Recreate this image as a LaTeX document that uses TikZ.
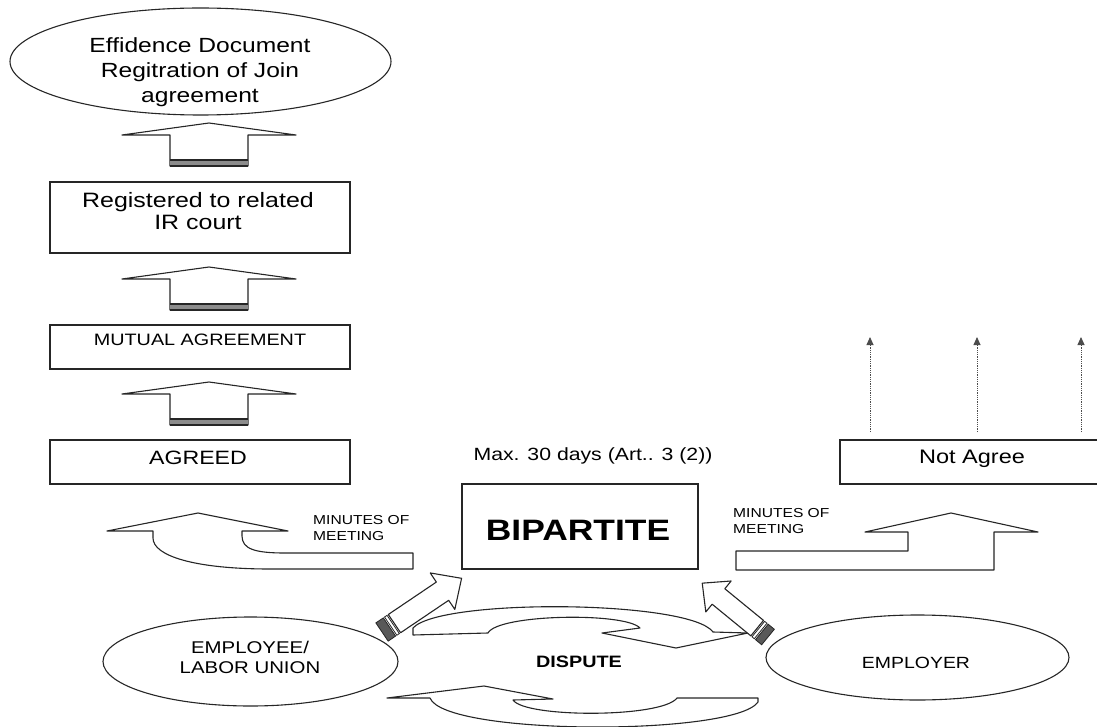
\documentclass[tikz,border=0pt]{standalone}
\usepackage{fontspec}
\setmainfont{Liberation Sans}[FakeStretch=1.2]
\usetikzlibrary{shapes.geometric,arrows.meta}
\newcommand{\fsz}[2]{\fontsize{#1}{#2}\selectfont}
\tikzset{
  box/.style={draw=black!85, line width=1.3pt, fill=white, inner sep=0pt, rectangle},
  oval/.style={draw=black!85, line width=1.1pt, fill=white, ellipse, inner sep=0pt},
  blk/.style={draw=black!85, line width=1.1pt, fill=white, line join=round},
  txt/.style={inner sep=0pt, align=center, text=black},
  dots/.style={draw=black!70, line width=0.9pt, dash pattern=on 0.9pt off 0.9pt, -{Triangle[length=8pt,width=7pt]}},
  stripe/.style={draw=black!85, fill=black!65, line width=0.8pt},
  uparr/.pic={
    \draw[blk] (0,0) -- (87,12) -- (39,12) -- (39,43) -- (-39,43) -- (-39,12) -- (-87,12) -- cycle;
    \fill[black!45] (-39,37) rectangle (39,43);
    \draw[line width=1.3pt, black!85] (-39,37) -- (39,37) (-39,43) -- (39,43);
  }
}
\begin{document}
\begin{tikzpicture}[x=1pt,y=-1pt]
\useasboundingbox (0,0) rectangle (1097,727);
\clip (0,0) rectangle (1097,727);

% top ellipse
\node[oval, minimum width=381, minimum height=107] (doc) at (200.5,61.5) {};
\node[txt, font=\fsz{20.5}{25}] (doc-t) at (200,72) {Effidence Document\\Regitration of Join\\agreement};

% boxes on the left
\node[box, minimum width=300, minimum height=71] (reg) at (200,217.5) {};
\node[txt, font=\fsz{20.8}{22}] (reg-t) at (198,211) {Registered to related\\IR court};
\node[box, minimum width=300, minimum height=44] (mut) at (200,347) {};
\node[txt, font=\fsz{16.5}{20}] (mut-t) at (200,340) {MUTUAL AGREEMENT};
\node[box, minimum width=300, minimum height=44] (agr) at (200,462) {};
\node[txt, font=\fsz{19.3}{23}] (agr-t) at (198,458) {AGREED};

% block arrows upward
\pic at (209,123) {uparr};
\pic at (209,267) {uparr};
\pic at (209,382) {uparr};

% bipartite
\node[box, minimum width=236, minimum height=85] (bip) at (580,526.5) {};
\node[txt, font=\bfseries\fsz{29.5}{34}] (bip-t) at (578,530) {BIPARTITE};
\node[txt, font=\fsz{17.7}{21}] (max) at (593,456) {Max. 30 days (Art.. 3 (2))};

% not agree
\node[box, minimum width=265, minimum height=44] (nag) at (972.5,462) {};
\node[txt, font=\fsz{19.6}{23}] (nag-t) at (972,459) {Not Agree};
\coordinate (u1a) at (870,432); \coordinate (u1b) at (870,337);
\coordinate (u2a) at (977,432); \coordinate (u2b) at (977,337);
\coordinate (u3a) at (1081,432); \coordinate (u3b) at (1081,337);
\draw[dots] (u1a) -- (u1b);
\draw[dots] (u2a) -- (u2b);
\draw[dots] (u3a) -- (u3b);

% left curved arrow
\draw[blk] (198,513) -- (288,531) -- (242,531) -- (242,536) .. controls (242,549) and (255,553) .. (285,553) -- (413,553) -- (413,569) -- (270,569) .. controls (195,569) and (153,556) .. (153,538) -- (153,531) -- (107,531) -- cycle;
\node[txt, font=\fsz{13}{16}, anchor=west, align=left] (mom1) at (313,528) {MINUTES OF\\MEETING};

% right arrow
\draw[blk] (736,551) -- (908,551) -- (908,532) -- (865,532) -- (951,513) -- (1038,532) -- (994,532) -- (994,570) -- (736,570) -- cycle;
\node[txt, font=\fsz{13}{16}, anchor=west, align=left] (mom2) at (733,521) {MINUTES OF\\MEETING};

% dispute circular arrows
\draw[blk] (413,635) -- (488,633) .. controls (498,614) and (625,612) .. (640,628) -- (602,633) -- (676,648) -- (748,633) -- (713,632) .. controls (690,600) and (440,598) .. (413,628) -- cycle;
\draw[blk] (387,698) -- (484,686) -- (553,699) -- (513,700) .. controls (525,718) and (662,718) .. (677,698) -- (758,698) -- (758,702) .. controls (735,736) and (445,736) .. (430,698) -- cycle;
\node[txt, font=\bfseries\fsz{16.5}{20}] (dis) at (579,662) {DISPUTE};

% parties
\node[oval, minimum width=295, minimum height=89] (emp) at (250.5,661.5) {};
\node[txt, font=\fsz{17}{20}] (emp-t) at (250,657) {EMPLOYEE/\\LABOR UNION};
\node[oval, minimum width=303, minimum height=85] (er) at (917.5,657.5) {};
\node[txt, font=\fsz{16.2}{20}] (er-t) at (916,663) {EMPLOYER};

% diagonal striped arrows
\begin{scope}[shift={(382,632)}, rotate=34]
  \draw[blk] (15,-11) -- (73,-11) -- (73,-22) -- (96,0) -- (73,22) -- (73,11) -- (15,11) -- cycle;
  \filldraw[stripe] (0,-11) rectangle (9,11);
  \draw[line width=0.8pt, black!85, fill=white] (10.5,-11) rectangle (13.5,11);
\end{scope}
\begin{scope}[shift={(768,637)}, rotate=140.7]
  \draw[blk] (14,-10) -- (64,-10) -- (64,-20) -- (85,0) -- (64,20) -- (64,10) -- (14,10) -- cycle;
  \filldraw[stripe] (0,-10) rectangle (8,10);
  \draw[line width=0.8pt, black!85, fill=white] (9.5,-10) rectangle (12.5,10);
\end{scope}
\end{tikzpicture}
\end{document}
